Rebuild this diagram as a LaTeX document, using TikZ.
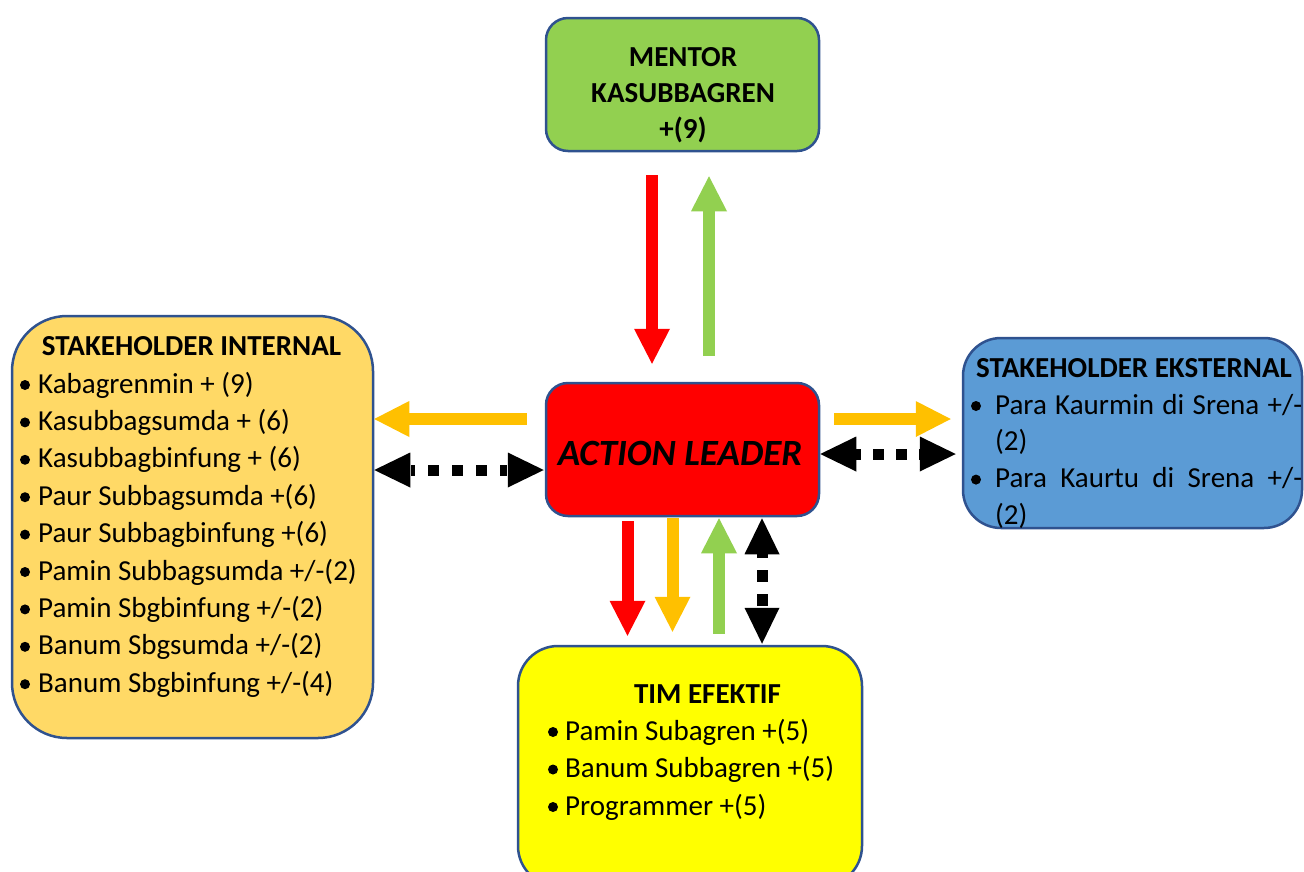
\documentclass[tikz,border=0pt]{standalone}
\usepackage{fontspec}
\setmainfont{Carlito}
\usetikzlibrary{arrows.meta,calc}

\definecolor{edge}{HTML}{2F528F}
\definecolor{mentorfill}{HTML}{92D050}
\definecolor{leaderfill}{HTML}{FF0000}
\definecolor{intfill}{HTML}{FFD966}
\definecolor{extfill}{HTML}{5B9BD5}
\definecolor{timfill}{HTML}{FFFF00}
\definecolor{flowred}{HTML}{FF0000}
\definecolor{floworange}{HTML}{FFC000}
\definecolor{flowgreen}{HTML}{92D050}

\newcommand{\bodysize}{\fontsize{29}{36}\selectfont}

\begin{document}
\begin{tikzpicture}[x=1pt,y=-1pt,
  box/.style={draw=edge, line width=2.5pt, inner sep=0pt},
  txt/.style={inner sep=0pt, anchor=base west, font=\bodysize},
  ttl/.style={inner sep=0pt, anchor=base, font=\bodysize\bfseries},
  blockarrow/.style={line width=12pt, line cap=butt,
    -{Triangle[length=35pt,width=36pt,line width=0pt]}},
  % heads of a two-way dotted link (shaft left blank)
  dotheads/.style={black, line width=11pt, line cap=butt, dash pattern=on 0pt off 2000pt,
    {Triangle[length=36pt,width=35pt,line width=0pt]}-{Triangle[length=36pt,width=35pt,line width=0pt]}},
  % square dots between the two heads
  dotshaft/.style={black, line width=11pt, line cap=butt, shorten <=36pt, shorten >=36pt},
]
\useasboundingbox (0,0) rectangle (1304,871);

% boxes
\node[box, fill=mentorfill, minimum width=273pt, minimum height=133pt, rounded corners=22pt] (mentor) at (682.5,84.5) {};
\node[box, fill=leaderfill, minimum width=273pt, minimum height=133pt, rounded corners=22pt] (leader) at (682.5,449.5) {};
\node[box, fill=intfill, minimum width=361pt, minimum height=422pt, rounded corners=55pt] (int) at (192.5,527) {};
\node[box, fill=extfill, minimum width=339pt, minimum height=190pt, rounded corners=38pt] (ext) at (1132.5,433) {};
\node[box, fill=timfill, minimum width=344pt, minimum height=240pt, rounded corners=40pt] (tim) at (690,766) {};

% mentor text
\node[ttl] (m1) at (683,66) {MENTOR};
\node[ttl] (m2) at (683,102) {KASUBBAGREN};
\node[ttl] (m3) at (683,138) {+(9)};

% action leader text
\node[inner sep=0pt, anchor=base, font=\fontsize{37}{40}\selectfont\bfseries\itshape] (lt) at (680,465) {ACTION LEADER};

% internal stakeholders
\node[ttl] (intt) at (191.5,355) {STAKEHOLDER INTERNAL};
\foreach \t [count=\i] in {Kabagrenmin + (9), Kasubbagsumda + (6), Kasubbagbinfung + (6),
  Paur Subbagsumda +(6), Paur Subbagbinfung +(6), Pamin Subbagsumda +/-(2),
  Pamin Sbgbinfung +/-(2), Banum Sbgsumda +/-(2), Banum Sbgbinfung +/-(4)} {
  \node[txt] (int\i) at (38,{393+37.4*(\i-1)}) {\t};
  \fill (25,{385+37.4*(\i-1)}) circle (5pt);
}

% external stakeholders
\node[ttl] (extt) at (1134,377) {STAKEHOLDER EKSTERNAL};
\node[txt] (ext1) at (995,414) {\makebox[307pt][s]{Para Kaurmin di Srena +/-}};
\node[txt] (ext2) at (995,450.8) {(2)};
\node[txt] (ext3) at (995,487.6) {\makebox[307pt][s]{Para Kaurtu di Srena +/-}};
\node[txt] (ext4) at (995,524.4) {(2)};
\fill (976,406) circle (5pt);
\fill (976,479.6) circle (5pt);

% effective team
\node[ttl] (timt) at (707.5,703) {TIM EFEKTIF};
\foreach \t [count=\i] in {Pamin Subagren +(5), Banum Subbagren +(5), Programmer +(5)} {
  \node[txt] (tim\i) at (565,{740+37.5*(\i-1)}) {\t};
  \fill (553,{732+37.5*(\i-1)}) circle (5pt);
}

% end points of the dotted links
\coordinate (dl1) at ($(int.east)+(0,-57)$);
\coordinate (dl2) at ($(leader.west)+(-1,20.5)$);
\coordinate (dr1) at ($(leader.east)+(0,4.5)$);
\coordinate (dr2) at ($(ext.west)+(-6,21)$);
\coordinate (dd1) at ($(leader.south)+(79.5,1)$);
\coordinate (dd2) at ($(tim.north)+(72,-1)$);

% mentor <-> leader
\draw[blockarrow, flowred] ($(mentor.south)+(-30.5,23)$) -- ($(leader.north)+(-30.5,-18)$);
\draw[blockarrow, flowgreen] ($(leader.north)+(26.5,-26)$) -- ($(mentor.south)+(26.5,24)$);

% leader <-> internal
\draw[blockarrow, floworange] ($(leader.west)+(-18,-30.5)$) -- ($(int.east)+(0,-108)$);
\draw[dotheads] (dl1) -- (dl2);
\draw[dotshaft, shorten >=37pt, shorten <=37pt, dash pattern=on 11pt off 13pt, dash phase=7pt] (dl1) -- (dl2);

% leader <-> external
\draw[blockarrow, floworange] ($(leader.east)+(14,-30.5)$) -- ($(ext.west)+(-11,-14)$);
\draw[dotheads] (dr1) -- (dr2);
\draw[dotshaft, dash pattern=on 11pt off 12pt, dash phase=6pt] (dr1) -- (dr2);

% leader <-> team
\draw[blockarrow, flowred] ($(leader.south)+(-55,4)$) -- ($(tim.north)+(-62.5,-9)$);
\draw[blockarrow, floworange] ($(leader.south)+(-10,1)$) -- ($(tim.north)+(-17.5,-13)$);
\draw[blockarrow, flowgreen] ($(tim.north)+(29,-11)$) -- ($(leader.south)+(36.5,1)$);
\draw[dotheads] (dd1) -- (dd2);
\draw[dotshaft, shorten >=35pt, shorten <=35pt, dash pattern=on 12pt off 12pt, dash phase=7pt] (dd1) -- (dd2);
\end{tikzpicture}
\end{document}
